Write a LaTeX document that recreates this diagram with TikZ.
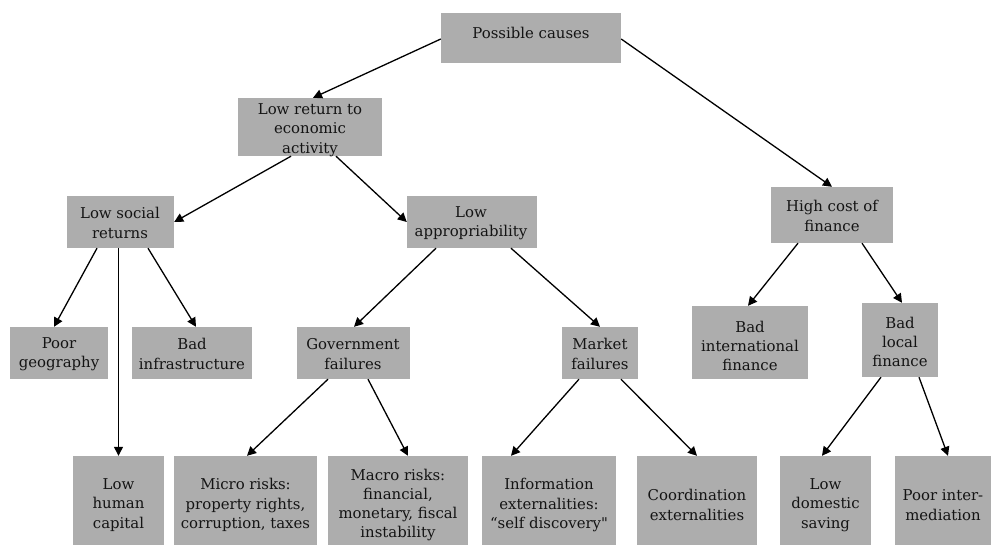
\documentclass[tikz,border=0pt]{standalone}
\usepackage{fontspec}
\setmainfont{DejaVu Serif}[Ligatures=TeXOff]
\usetikzlibrary{arrows.meta}
\definecolor{boxgray}{HTML}{ADADAD}
\definecolor{txtcol}{HTML}{141414}
\tikzset{
  box/.style={fill=boxgray, draw=none, inner sep=0pt},
  txt/.style={align=center, inner sep=0pt, text=txtcol, font=\fontsize{14.9}{19.3}\selectfont},
  arr/.style={-{Triangle[length=9pt,width=9pt]}, line width=1.3pt}
}
\begin{document}
\begin{tikzpicture}[x=1pt,y=-1pt]
\useasboundingbox (0,0) rectangle (991,545);
% boxes
\node[box, minimum width=180, minimum height=50] (pc) at (531,38) {};
\node[box, minimum width=144, minimum height=58] (lr) at (310,127) {};
\node[box, minimum width=107, minimum height=52] (ls) at (120.5,222) {};
\node[box, minimum width=130, minimum height=52] (la) at (472,222) {};
\node[box, minimum width=122, minimum height=56] (hc) at (832,215) {};
\node[box, minimum width=98, minimum height=52] (pg) at (59,353) {};
\node[box, minimum width=120, minimum height=52] (bi) at (192,353) {};
\node[box, minimum width=113, minimum height=52] (gf) at (353.5,353) {};
\node[box, minimum width=76, minimum height=52] (mf) at (600,353) {};
\node[box, minimum width=116, minimum height=73] (bint) at (750,342.5) {};
\node[box, minimum width=76, minimum height=74] (bl) at (900,340) {};
\node[box, minimum width=91, minimum height=89] (lh) at (118.5,500.5) {};
\node[box, minimum width=143, minimum height=89] (mr) at (245.5,500.5) {};
\node[box, minimum width=140, minimum height=89] (mac) at (398,500.5) {};
\node[box, minimum width=134, minimum height=89] (ie) at (549,500.5) {};
\node[box, minimum width=120, minimum height=89] (ce) at (697,500.5) {};
\node[box, minimum width=91, minimum height=89] (ld) at (825.5,500.5) {};
\node[box, minimum width=96, minimum height=89] (pi) at (943,500.5) {};
% texts
\node[txt] (pc-t) at (531,33) {Possible causes};
\node[txt] (lr-t) at (310,130) {Low return to\\economic\\activity};
\node[txt] (ls-t) at (120,223) {Low social\\returns};
\node[txt] (la-t) at (471,223) {Low\\appropriability};
\node[txt] (hc-t) at (832,216) {High cost of\\finance};
\node[txt] (pg-t) at (59,354) {Poor\\geography};
\node[txt] (bi-t) at (192,354) {Bad\\infrastructure};
\node[txt] (gf-t) at (353,354) {Government\\failures};
\node[txt] (mf-t) at (600,354) {Market\\failures};
\node[txt] (bint-t) at (750,346) {Bad\\international\\finance};
\node[txt] (bl-t) at (900,342) {Bad\\local\\finance};
\node[txt] (lh-t) at (118.5,505) {Low\\human\\capital};
\node[txt] (mr-t) at (245.5,505) {Micro risks:\\property rights,\\corruption, taxes};
\node[txt] (mac-t) at (398,505) {Macro risks:\\financial,\\monetary, fiscal\\instability};
\node[txt] (ie-t) at (549,505) {Information\\externalities:\\“self discovery"};
\node[txt] (ce-t) at (697,505) {Coordination\\externalities};
\node[txt] (ld-t) at (825.5,505) {Low\\domestic\\saving};
\node[txt] (pi-t) at (943,505) {Poor inter-\\mediation};
% connectors
\draw[arr] ([yshift=-1pt]pc.west) -- ([xshift=3pt]lr.north);
\draw[arr] ([yshift=-1pt]pc.east) -- (hc.north);
\draw[arr] ([xshift=-19pt]lr.south) -- (ls.east);
\draw[arr] ([xshift=26pt]lr.south) -- (la.west);
\draw[arr] ([xshift=-23.5pt]ls.south) -- ([xshift=-5pt]pg.north);
\draw[arr] (lh.north |- ls.south) -- (lh.north);
\draw[arr] ([xshift=27.5pt]ls.south) -- ([xshift=4pt]bi.north);
\draw[arr] ([xshift=-36pt]la.south) -- ([xshift=0.5pt]gf.north);
\draw[arr] ([xshift=39pt]la.south) -- (mf.north);
\draw[arr] ([xshift=-34pt]hc.south) -- ([xshift=-2pt]bint.north);
\draw[arr] ([xshift=30pt]hc.south) -- ([xshift=2pt]bl.north);
\draw[arr] ([xshift=-25.5pt]gf.south) -- ([xshift=1.5pt]mr.north);
\draw[arr] ([xshift=14.5pt]gf.south) -- ([xshift=10pt]mac.north);
\draw[arr] ([xshift=-21pt]mf.south) -- ([xshift=-38pt]ie.north);
\draw[arr] ([xshift=21pt]mf.south) -- (ce.north);
\draw[arr] ([xshift=-19pt]bl.south) -- ([xshift=-3.5pt]ld.north);
\draw[arr] ([xshift=19pt]bl.south) -- ([xshift=5pt]pi.north);
\end{tikzpicture}
\end{document}
